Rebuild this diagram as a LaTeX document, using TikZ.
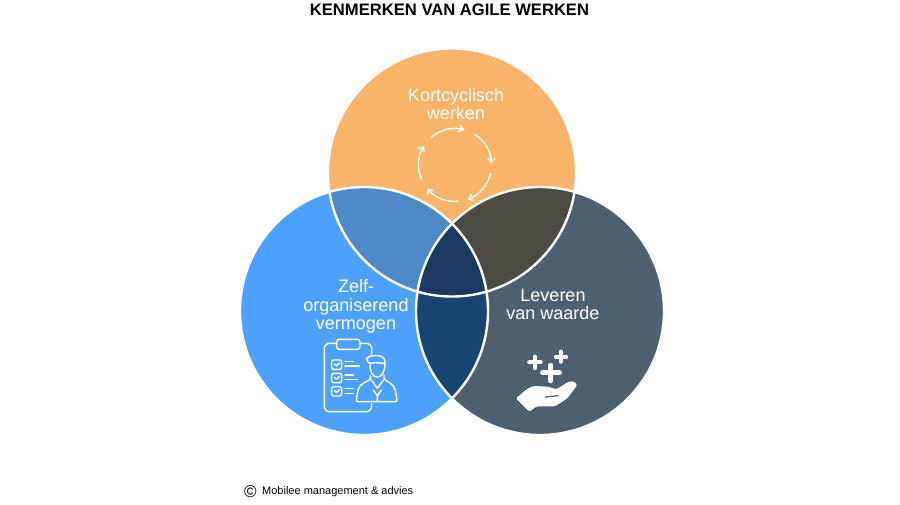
\documentclass[tikz,border=0pt]{standalone}
\usepackage{fontspec}
\setmainfont{Liberation Sans}
\usetikzlibrary{arrows.meta}
\definecolor{orangec}{HTML}{F8B468}
\definecolor{bluec}{HTML}{4DA0FB}
\definecolor{slatec}{HTML}{4D6070}
\definecolor{topleft}{HTML}{4E8AC8}
\definecolor{topright}{HTML}{4C4B43}
\definecolor{midc}{HTML}{1A3A5F}
\definecolor{lowc}{HTML}{1A4471}
\tikzset{
 label/.style={text=white,align=center,font=\fontsize{18}{18.6}\selectfont},
 icon/.style={draw=white,line width=1.4pt,line join=round,line cap=round},
}
\begin{document}
\begin{tikzpicture}[x=1pt,y=-1pt]
 \useasboundingbox (0,0) rectangle (900,504);
 \fill[white] (0,0) rectangle (900,504);
 \coordinate (top) at (452,172.5);
 \coordinate (left) at (364,311);
 \coordinate (right) at (540,311);
 \fill[orangec] (top) circle (124);
 \fill[bluec] (left) circle (124);
 \fill[slatec] (right) circle (124);
 \begin{scope}
  \clip (top) circle (124);
  \fill[topleft] (left) circle (124);
  \fill[topright] (right) circle (124);
 \end{scope}
 \begin{scope}
  \clip (left) circle (124);
  \fill[lowc] (right) circle (124);
  \clip (top) circle (124);
  \fill[midc] (right) circle (124);
 \end{scope}
 \draw[white,line width=2.4pt] (top) circle (124) (left) circle (124) (right) circle (124);
 \node[font=\fontsize{16.6}{18}\bfseries\selectfont] (title) at (449.5,9.5) {KENMERKEN VAN AGILE WERKEN};
 \node[label] (kort) at (456,104) {Kortcyclisch\\werken};
 \node[label] (zelf) at (356,306.5) {Zelf-\\organiserend\\vermogen};
 \node[label] (lev) at (553,304.5) {Leveren\\van waarde};
 \node[font=\fontsize{17}{18}\selectfont,inner sep=0pt] (copy) at (250.5,491.5) {©};
 \node[font=\fontsize{11}{14}\selectfont,anchor=west,inner sep=0pt] (mob) at (262,491.5) {Mobilee management \& advies};
 \begin{scope}[shift={(455,165)}]
  \foreach \a/\b in {-132/-75,-58/-2,13/70,85/140,156/212}
   \draw[-{Straight Barb[length=4.5pt,width=7pt]},white,line width=1.4pt] (\a:36.5) arc (\a:\b:36.5);
 \end{scope}
 \begin{scope}[shift={(280,320)},scale=1/3,icon]
  \draw (170,70) -- (145,70) to[bend right=30] (133,82) -- (133,262) to[bend right=30] (145,275) -- (262,275) to[bend right=30] (275,262) -- (275,252);
  \draw (240,70) -- (262,70) to[bend left=30] (275,82) -- (275,103);
  \draw[rounded corners=2.5pt] (170,58) rectangle (240,88);
  \foreach \y in {120,160,200} {
   \draw[rounded corners=1.5pt] (155,\y) rectangle (185,\y+28);
   \draw (163,\y+12) -- (170,\y+18) -- (178,\y+9);
   \draw (195,\y+5) -- (220,\y+5);
  }
  \draw (195,138) -- (238,138) (195,178) -- (232,178) (195,220) -- (220,220);
  \draw[rounded corners=3pt] (270,130) -- (258,122) -- (262,110) -- (295,105) -- (315,115) -- (315,130);
  \draw (270,130) -- (285,128) -- (315,130);
  \draw (270,130) .. controls (268,155) and (280,172) .. (292,172) .. controls (305,172) and (317,150) .. (315,130);
  \draw[rounded corners=2pt] (272,168) -- (272,178) -- (245,192) -- (235,205) -- (228,245) -- (352,245) -- (345,205) -- (335,192) -- (312,178) -- (312,165);
  \draw (272,178) -- (292,205) -- (312,178) (280,210) -- (292,228) -- (304,210) (292,228) -- (292,245);
 \end{scope}
 \begin{scope}[shift={(490,330)},scale=1/3]
  \fill[white,rounded corners=1.5pt] (78,205) -- (110,178) -- (130,168) -- (175,170) -- (200,178) -- (232,157) -- (250,153) -- (262,165) -- (232,205) -- (195,229) -- (140,229) -- (118,245) -- cycle;
  \draw[slatec,line width=1.2pt] (165,201) -- (205,197);
  \draw[white,line width=4.2pt,line cap=round] (118,97) -- (152,97) (135,80) -- (135,114) (198,80) -- (228,80) (212,65) -- (212,95);
  \draw[white,line width=5.2pt,line cap=round] (158,128) -- (208,128) (182,106) -- (182,152);
 \end{scope}
\end{tikzpicture}
\end{document}
